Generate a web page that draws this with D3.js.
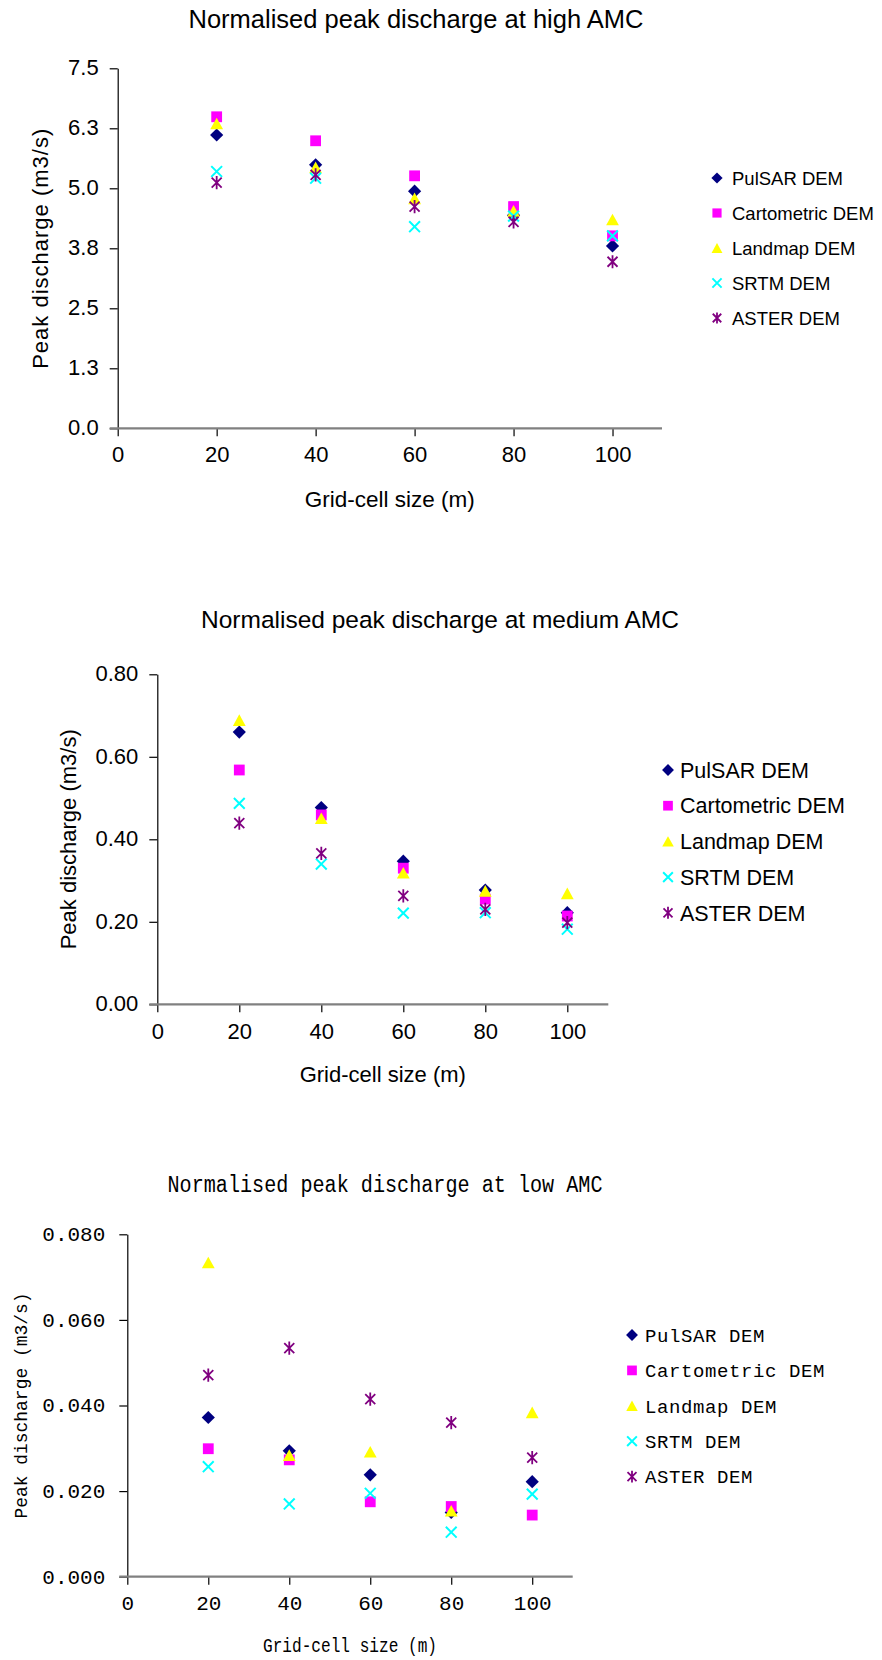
<!DOCTYPE html>
<html>
<head>
<meta charset="utf-8">
<script src="https://cdn.jsdelivr.net/npm/d3@7"></script>
<style>
  html, body { margin: 0; padding: 0; background: #fff; }
  svg { display: block; }
</style>
</head>
<body>
<svg id="chart" width="882" height="1660"></svg>
<script>
// Grid-cell sizes (m) and DEM sources
const gridSizes = [20, 40, 60, 80, 100];
const demNames = ["PulSAR DEM", "Cartometric DEM", "Landmap DEM", "SRTM DEM", "ASTER DEM"];
const xTicks = [0, 20, 40, 60, 80, 100];

// Normalised peak discharge, high AMC (m3/s)
const highPulsar   = [6.11, 5.49, 4.94, 4.44, 3.80];
const highCarto    = [6.49, 5.99, 5.26, 4.62, 4.01];
const highLandmap  = [6.35, 5.44, 4.79, 4.53, 4.35];
const highSrtm     = [5.35, 5.21, 4.20, 4.42, 4.01];
const highAster    = [5.12, 5.28, 4.62, 4.30, 3.47];
const highTicks    = [0, 1.25, 2.5, 3.75, 5, 6.25, 7.5];

// Normalised peak discharge, medium AMC (m3/s)
const medPulsar    = [0.660, 0.477, 0.347, 0.277, 0.222];
const medCarto     = [0.568, 0.459, 0.330, 0.255, 0.214];
const medLandmap   = [0.689, 0.451, 0.319, 0.275, 0.269];
const medSrtm      = [0.487, 0.340, 0.221, 0.222, 0.182];
const medAster     = [0.439, 0.366, 0.263, 0.230, 0.198];
const medTicks     = [0, 0.2, 0.4, 0.6, 0.8];

// Normalised peak discharge, low AMC (m3/s)
const lowPulsar    = [0.0372, 0.0294, 0.0238, 0.0150, 0.0222];
const lowCarto     = [0.0299, 0.0273, 0.0175, 0.0164, 0.0144];
const lowLandmap   = [0.0734, 0.0284, 0.0292, 0.0154, 0.0384];
const lowSrtm      = [0.0257, 0.0170, 0.0195, 0.0104, 0.0193];
const lowAster     = [0.0471, 0.0534, 0.0415, 0.0360, 0.0278];
const lowTicks     = [0, 0.02, 0.04, 0.06, 0.08];

const markerKinds  = ["diamond", "square", "triangle", "cross", "star"];
const markerColors = ["#000080", "#FF00FF", "#FFFF00", "#00FFFF", "#800080"];

const SANS = "'Liberation Sans', Arial, Helvetica, sans-serif";
const MONO = "'Liberation Mono', 'Courier New', monospace";

const svg = d3.select("#chart");
svg.append("rect").attr("width", 882).attr("height", 1660).attr("fill", "#fff");

// Excel-style marker outlines, centred on (0,0)
function markerPath(kind, k) {
  const p = d3.path();
  if (kind === "diamond") {
    const r = 6.6 * k;
    p.moveTo(0, -r); p.lineTo(r, 0); p.lineTo(0, r); p.lineTo(-r, 0); p.closePath();
  } else if (kind === "square") {
    const r = 5.4 * k;
    p.rect(-r, -r, 2 * r, 2 * r);
  } else if (kind === "triangle") {
    const w = 6.4 * k, h = 5.8 * k;
    p.moveTo(0, -h); p.lineTo(w, h); p.lineTo(-w, h); p.closePath();
  } else if (kind === "cross") {
    const r = 5.4 * k;
    p.moveTo(-r, -r); p.lineTo(r, r); p.moveTo(r, -r); p.lineTo(-r, r);
  } else {
    const r = 5.0 * k, v = 6.6 * k;
    p.moveTo(-r, -r); p.lineTo(r, r); p.moveTo(r, -r); p.lineTo(-r, r);
    p.moveTo(0, -v); p.lineTo(0, v);
  }
  return p.toString();
}

function drawMarker(g, kind, color, x, y, k) {
  const filled = kind === "diamond" || kind === "square" || kind === "triangle";
  g.append("path")
    .attr("transform", `translate(${x},${y})`)
    .attr("d", markerPath(kind, k))
    .attr("fill", filled ? color : "none")
    .attr("stroke", filled ? "none" : color)
    .attr("stroke-width", kind === "cross" ? 2 : 1.8);
}

function drawPanel(cfg) {
  const g = svg.append("g");
  const x = d3.scaleLinear().domain([0, 110]).range(cfg.xRange);
  const y = d3.scaleLinear().domain([0, cfg.yMax]).range(cfg.yRange);

  // Y axis (black line, outward ticks)
  const yAxis = d3.axisLeft(y).tickValues(cfg.yTicks).tickFormat(d3.format(cfg.yFormat))
    .tickSizeInner(8).tickSizeOuter(0).tickPadding(cfg.yPad);
  const gy = g.append("g").attr("transform", `translate(${cfg.xRange[0]},0)`).call(yAxis);
  gy.select(".domain").attr("stroke", "#000").attr("stroke-width", 1.2);
  gy.selectAll(".tick line").attr("stroke", "#000").attr("stroke-width", 1.2);
  gy.selectAll(".tick text").attr("font-family", cfg.font).attr("font-size", cfg.tickSize)
    .attr("fill", "#000").attr("dy", "0.3em").attr("letter-spacing", cfg.tickSpacing || 0);

  // X axis (grey baseline, ticks below)
  const xAxis = d3.axisBottom(x).tickValues(xTicks).tickFormat(d3.format("d"))
    .tickSizeInner(8).tickSizeOuter(0).tickPadding(cfg.xPad);
  const gx = g.append("g").attr("transform", `translate(0,${cfg.yRange[0]})`).call(xAxis);
  gx.select(".domain").remove();
  gx.append("line")
    .attr("x1", cfg.xRange[0] - 8).attr("x2", cfg.xRange[1])
    .attr("y1", 0).attr("y2", 0)
    .attr("stroke", "#808080").attr("stroke-width", 2.2);
  gx.selectAll(".tick line").attr("stroke", "#000").attr("stroke-width", 1.2);
  gx.selectAll(".tick text").attr("font-family", cfg.font).attr("font-size", cfg.tickSize)
    .attr("fill", "#000").attr("dy", "0").attr("letter-spacing", cfg.tickSpacing || 0);

  // Markers
  cfg.series.forEach((vals, si) => {
    vals.forEach((v, i) => {
      drawMarker(g, markerKinds[si], markerColors[si], x(gridSizes[i]), y(v), 1);
    });
  });

  // Title
  const title = g.append("text")
    .attr("x", cfg.titleX).attr("y", cfg.titleY)
    .attr("text-anchor", "middle")
    .attr("font-family", cfg.font).attr("font-size", cfg.titleSize)
    .attr("fill", "#000").text(cfg.title);
  if (cfg.titleLen) title.attr("textLength", cfg.titleLen).attr("lengthAdjust", "spacingAndGlyphs");

  // Axis titles
  const yc = (cfg.yRange[0] + cfg.yRange[1]) / 2;
  const yl = g.append("text")
    .attr("transform", `translate(${cfg.yLabelX},${yc}) rotate(-90)`)
    .attr("text-anchor", "middle").attr("dy", "0.35em")
    .attr("font-family", cfg.font).attr("font-size", cfg.yLabelSize)
    .attr("letter-spacing", cfg.yLabelSpacing || 0)
    .attr("fill", "#000").text("Peak discharge (m3/s)");
  if (cfg.yLabelLen) yl.attr("textLength", cfg.yLabelLen).attr("lengthAdjust", "spacingAndGlyphs");

  const xl = g.append("text")
    .attr("x", (cfg.xRange[0] + cfg.xRange[1]) / 2).attr("y", cfg.xLabelY)
    .attr("text-anchor", "middle")
    .attr("font-family", cfg.font).attr("font-size", cfg.xLabelSize)
    .attr("fill", "#000").text("Grid-cell size (m)");
  if (cfg.xLabelLen) xl.attr("textLength", cfg.xLabelLen).attr("lengthAdjust", "spacingAndGlyphs");

  // Legend
  demNames.forEach((name, i) => {
    const ly = cfg.legendY + i * cfg.legendStep;
    drawMarker(g, markerKinds[i], markerColors[i], cfg.legendMarkX, ly, cfg.legendMarkK);
    g.append("text")
      .attr("x", cfg.legendTextX).attr("y", ly).attr("dy", "0.36em")
      .attr("font-family", cfg.font).attr("font-size", cfg.legendSize)
      .attr("letter-spacing", cfg.legendSpacing || 0)
      .attr("fill", "#000").text(name);
  });
}

drawPanel({
  title: "Normalised peak discharge at high AMC",
  font: SANS, titleSize: 25.5, titleX: 416, titleY: 28,
  xRange: [117.7, 662], yRange: [428.3, 68.3], yMax: 7.5,
  yTicks: highTicks, yFormat: ".1f", tickSize: 22, yPad: 11, xPad: 26,
  series: [highPulsar, highCarto, highLandmap, highSrtm, highAster],
  yLabelX: 40, yLabelSize: 22, yLabelSpacing: 1,
  xLabelY: 507, xLabelSize: 22.5,
  legendMarkX: 717, legendTextX: 732, legendY: 178, legendStep: 35,
  legendSize: 18.5, legendMarkK: 0.85
});

drawPanel({
  title: "Normalised peak discharge at medium AMC",
  font: SANS, titleSize: 24.5, titleX: 440, titleY: 628,
  xRange: [157.3, 608.3], yRange: [1004.3, 674.3], yMax: 0.8,
  yTicks: medTicks, yFormat: ".2f", tickSize: 22, yPad: 11, xPad: 27,
  series: [medPulsar, medCarto, medLandmap, medSrtm, medAster],
  yLabelX: 68, yLabelSize: 22, yLabelSpacing: 0,
  xLabelY: 1082, xLabelSize: 22,
  legendMarkX: 668, legendTextX: 680, legendY: 770, legendStep: 35.7,
  legendSize: 21.5, legendMarkK: 0.9
});

drawPanel({
  title: "Normalised peak discharge at low AMC",
  font: MONO, titleSize: 23, titleX: 385, titleY: 1192, titleLen: 435,
  xRange: [127.3, 572.7], yRange: [1576.7, 1234.3], yMax: 0.08,
  yTicks: lowTicks, yFormat: ".3f", tickSize: 21, tickSpacing: 0, yPad: 14, xPad: 25,
  series: [lowPulsar, lowCarto, lowLandmap, lowSrtm, lowAster],
  yLabelX: 20, yLabelSize: 19, yLabelLen: 226,
  xLabelY: 1652, xLabelSize: 21, xLabelLen: 174,
  legendMarkX: 632, legendTextX: 645, legendY: 1335, legendStep: 35.4,
  legendSize: 19, legendSpacing: 0.6, legendMarkK: 0.9
});
</script>
</body>
</html>
